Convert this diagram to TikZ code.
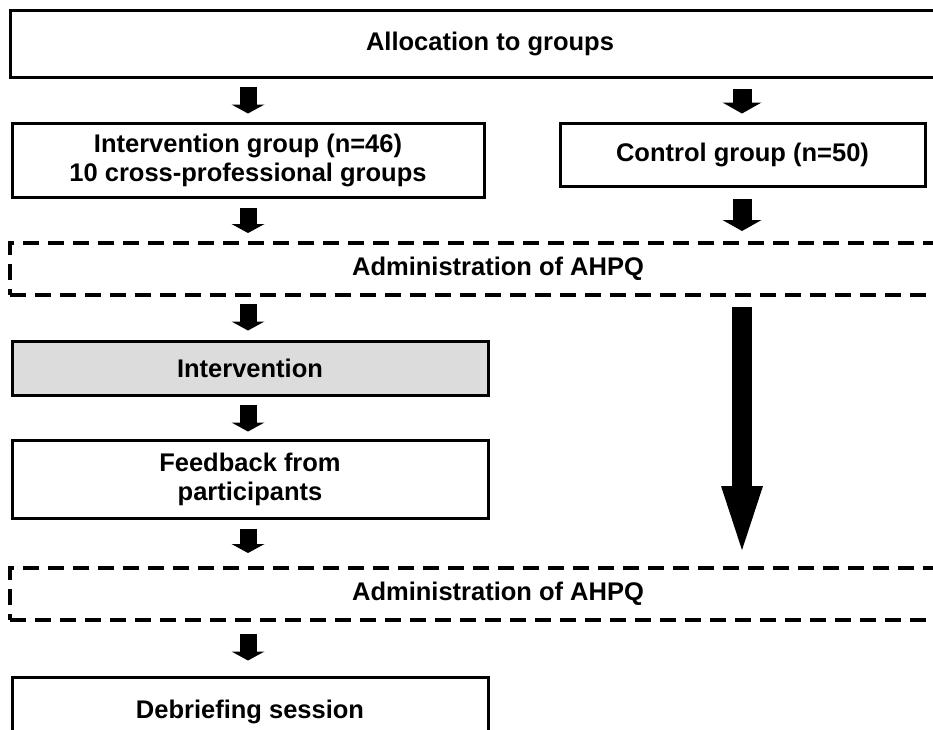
\documentclass[tikz,border=0pt]{standalone}
\usepackage{fontspec}
\setmainfont{Liberation Sans}
\usetikzlibrary{arrows.meta}
\definecolor{boxgray}{HTML}{DCDCDC}
\tikzset{
  box/.style={draw=black, line width=3pt, inner sep=0pt, align=center,
    font=\fontsize{25.5}{29}\selectfont\bfseries},
  dbox/.style={box, line width=4pt, dash pattern=on 16pt off 9pt},
  blk/.style={line width=17pt, -{Triangle[width=33pt,length=9pt,line width=0pt]}},
  blkr/.style={line width=19pt, -{Triangle[width=39pt,length=11pt,line width=0pt]}},
  big/.style={line width=20pt, -{Triangle[width=42pt,length=64pt,line width=0pt]}}
}
\begin{document}
\begin{tikzpicture}[x=1pt,y=-1pt]
\useasboundingbox (0,0) rectangle (933,729);
\clip (0,0) rectangle (933,729);
\fill[white] (0,0) rectangle (933,729);
\coordinate (L) at (248,0);
\coordinate (R) at (742,0);
\node[box, minimum width=960pt, minimum height=67pt] (alloc) at (490,43.5) {Allocation to groups};
\node[box, minimum width=472pt, minimum height=74pt] (ig) at (248,160) {Intervention group (n=46)\\10 cross-professional groups};
\node[box, minimum width=365pt, minimum height=63pt] (cg) at (742.5,154.5) {Control group (n=50)};
\node[dbox, minimum width=976pt, minimum height=52pt] (ad1) at (498,269) {Administration of AHPQ};
\node[box, fill=boxgray, minimum width=476pt, minimum height=54pt] (iv) at (250,368) {Intervention};
\node[box, minimum width=476pt, minimum height=78pt] (fb) at (250,479) {Feedback from\\participants};
\node[dbox, minimum width=976pt, minimum height=52pt] (ad2) at (498,594) {Administration of AHPQ};
\node[box, minimum width=476pt, minimum height=70pt] (deb) at (250,712) {Debriefing session};
% arrows
\draw[blk, shorten <=8pt, shorten >=8pt] (alloc.south -| L) -- (ig.north -| L);
\draw[blkr, shorten <=10pt, shorten >=8pt] (alloc.south -| R) -- (cg.north -| R);
\draw[blk, shorten <=9pt, shorten >=8pt] (ig.south -| L) -- (ad1.north -| L);
\draw[blkr, shorten <=11pt, shorten >=10pt] (cg.south -| R) -- (ad1.north -| R);
\draw[blk, shorten <=7pt, shorten >=9pt] (ad1.south -| L) -- (iv.north -| L);
\draw[blk, shorten <=8pt, shorten >=7pt] (iv.south -| L) -- (fb.north -| L);
\draw[blk, shorten <=9pt, shorten >=13pt] (fb.south -| L) -- (ad2.north -| L);
\draw[blk, shorten <=12pt, shorten >=15pt] (ad2.south -| L) -- (deb.north -| L);
\draw[big, shorten <=10pt, shorten >=16pt] (ad1.south -| R) -- (ad2.north -| R);
\end{tikzpicture}
\end{document}
